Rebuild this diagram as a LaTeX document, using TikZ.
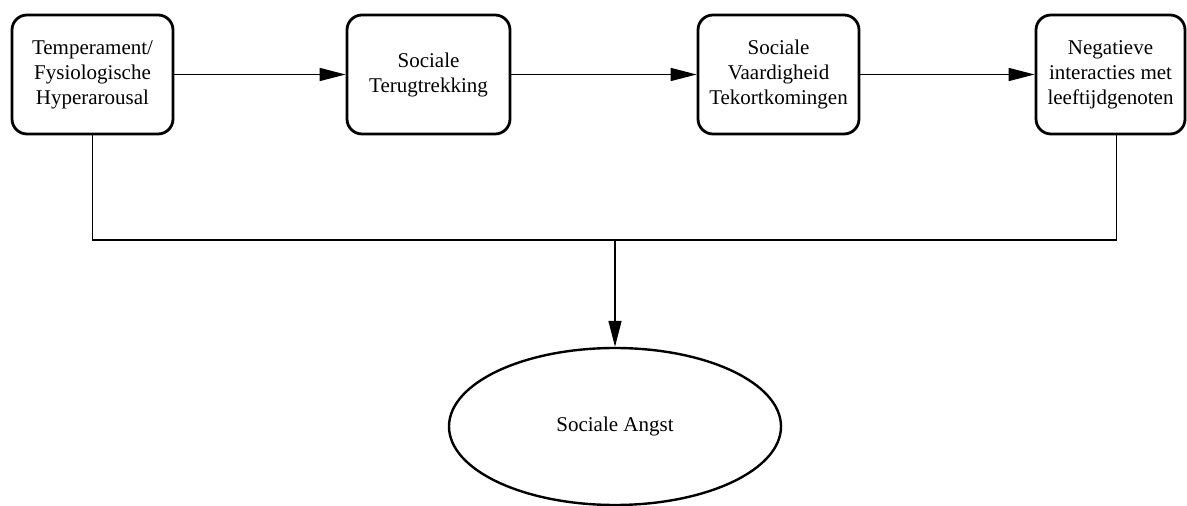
\documentclass[tikz,border=0pt]{standalone}
\usepackage{fontspec}
\setmainfont{Liberation Serif}
\usetikzlibrary{shapes.geometric,arrows.meta}

\begin{document}
\begin{tikzpicture}[x=0.5pt,y=-0.5pt]
    \tikzstyle{every node}=[font=\fontsize{10.5}{12.5}\selectfont,align=center]
    \tikzstyle{stage}=[draw,line width=1.4pt,rounded corners=7.5pt,
                       minimum height=59.5pt,inner sep=2pt]
    \tikzstyle{link}=[line width=0.75pt,-{Triangle[length=13pt,width=6.5pt]}]

    \useasboundingbox (0,0) rectangle (1187,506);

    % First, the four stages along the top row
    \node[stage,minimum width=80.5pt] (temp) at (92.5,74.5)
        {Temperament/\\Fysiologische\\Hyperarousal};
    \node[stage,minimum width=81.5pt] (terug) at (428.5,74.5)
        {Sociale\\Terugtrekking};
    \node[stage,minimum width=80.5pt] (vaard) at (778.5,74.5)
        {Sociale\\Vaardigheid\\Tekortkomingen};
    \node[stage,minimum width=74.5pt] (negat) at (1110.5,74.5)
        {Negatieve\\interacties met\\leeftijdgenoten};

    % This is the outcome:
    \node[draw,ellipse,line width=1.2pt,minimum width=166pt,
          minimum height=78.5pt] (angst) at (615,426.5) {Sociale Angst};

    % Arrows from one stage to the next
    \draw[link] (temp) -- (terug);
    \draw[link] (terug) -- (vaard);
    \draw[link] (vaard) -- (negat);

    % Both outer stages join up and lead down to the outcome
    \coordinate (join) at (615,240);
    \draw[line width=0.75pt] (temp.south) |- (join);
    \draw[line width=0.75pt] ([xshift=3pt]negat.south) |- (join);
    \draw[link] (join) -- (angst);

\end{tikzpicture}
\end{document}
